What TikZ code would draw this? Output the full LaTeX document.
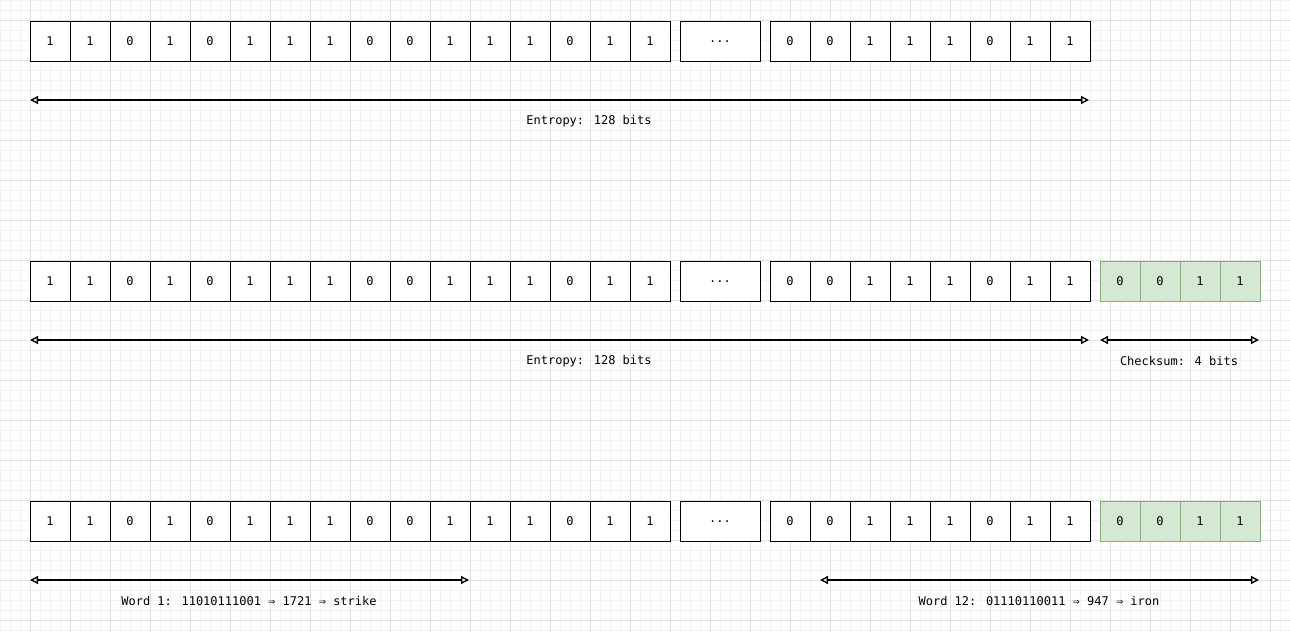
\documentclass[tikz,border=0pt]{standalone}
\usepackage{fontspec}
\newfontfamily\monofont{DejaVu Sans Mono}
\usetikzlibrary{arrows.meta}
\definecolor{gminor}{HTML}{F1F1F1}
\definecolor{gmajor}{HTML}{E2E2E2}
\definecolor{gfill}{HTML}{D5E8D4}
\definecolor{gline}{HTML}{82B366}
\tikzset{
  cell/.style={draw=black, fill=white, line width=0.75pt, minimum width=30pt, minimum height=30pt,
    inner sep=0pt, anchor=north west, font=\monofont\fontsize{9}{11}\selectfont},
  wide/.style={cell, minimum width=60pt},
  chk/.style={cell, fill=gfill, draw=gline},
  span/.style={line width=1pt, {Triangle[open,length=6pt,width=6pt]}-{Triangle[open,length=6pt,width=6pt]}},
  lbl/.style={font=\monofont\fontsize{9}{11}\selectfont, inner sep=0pt}
}
\begin{document}
\begin{tikzpicture}[x=0.75pt,y=-0.75pt]
\useasboundingbox (0,0) rectangle (1290,632);
\fill[white] (0,0) rectangle (1290,632);
% grid
\foreach \x in {0,10,...,1290} \draw[gminor,line width=0.5pt] (\x,0) -- (\x,632);
\foreach \y in {0,10,...,630} \draw[gminor,line width=0.5pt] (0,\y) -- (1290,\y);
\foreach \x in {30,70,...,1290} \draw[gmajor,line width=0.6pt] (\x,0) -- (\x,632);
\foreach \y in {20,60,...,620} \draw[gmajor,line width=0.6pt] (0,\y) -- (1290,\y);
% rows of bits
\foreach \r/\yy in {1/21,2/261,3/501}{
  \foreach \b [count=\i from 0] in {1,1,0,1,0,1,1,1,0,0,1,1,1,0,1,1}
    \node[cell] (r\r a\i) at ({29.5+40*\i},\yy) {\b};
  \node[wide] (r\r dots) at (679.5,\yy) {...};
  \foreach \b [count=\i from 0] in {0,0,1,1,1,0,1,1}
    \node[cell] (r\r b\i) at ({769.5+40*\i},\yy) {\b};
}
\foreach \r/\yy in {2/261,3/501}{
  \foreach \b [count=\i from 0] in {0,0,1,1}
    \node[chk] (r\r c\i) at ({1099.5+40*\i},\yy) {\b};
}
% row 1
\coordinate (e1l) at (30,100);
\coordinate (e1r) at (1089,100);
\draw[span] (e1l) -- (e1r);
\node[lbl] (t1) at (589,121) {Entropy: 128 bits};
% row 2
\coordinate (e2l) at (30,340);
\coordinate (e2r) at (1089,340);
\draw[span] (e2l) -- (e2r);
\node[lbl] (t2) at (589,361) {Entropy: 128 bits};
\coordinate (c2l) at (1100,340);
\coordinate (c2r) at (1259,340);
\draw[span] (c2l) -- (c2r);
\node[lbl] (t3) at (1179,361) {Checksum: 4 bits};
% row 3
\coordinate (w1l) at (30,580);
\coordinate (w1r) at (469,580);
\draw[span] (w1l) -- (w1r);
\node[lbl] (t4) at (249,601) {Word 1: 11010111001 ⇒ 1721 ⇒ strike};
\coordinate (w12l) at (820,580);
\coordinate (w12r) at (1259,580);
\draw[span] (w12l) -- (w12r);
\node[lbl] (t5) at (1039,601) {Word 12: 01110110011 ⇒ 947 ⇒ iron};
\end{tikzpicture}
\end{document}
